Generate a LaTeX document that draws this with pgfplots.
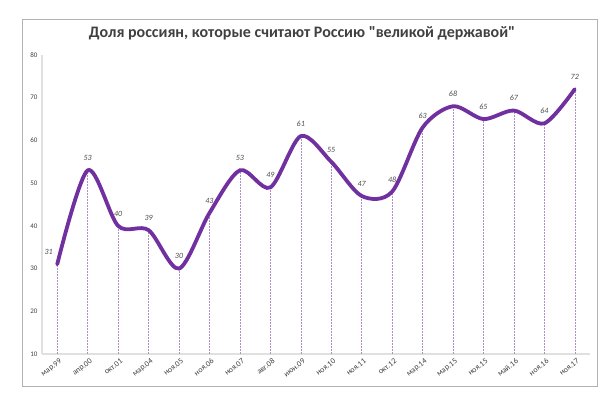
\documentclass[border=0pt]{standalone}
\usepackage{pgfplots}
\pgfplotsset{compat=1.18}
\usepackage{fontspec}
\setmainfont{Carlito}[Ligatures=TeXOff]
\definecolor{lineviolet}{HTML}{7030A0}
\pgfplotstableread{
x y
0 31
1 53
2 40
3 39
4 30
5 43
6 53
7 49
8 61
9 55
10 47
11 48
12 63
13 68
14 65
15 67
16 64
17 72
}\datatable
\pgfplotstableread{
x y
0 31
}\firstpoint
\begin{document}
\begin{tikzpicture}[x=1pt,y=1pt]
\path[use as bounding box] (0,0) rectangle (611,398);
\draw[black!30, line width=1pt] (22,11) rectangle (597,378);
\node[font=\bfseries\fontsize{16}{18}\selectfont, text=black!75] at (302,365) {Доля россиян, которые считают Россию "великой державой"};
\begin{axis}[
  at={(42pt,44pt)}, anchor=south west,
  scale only axis, width=548pt, height=299pt,
  xmin=-0.5, xmax=17.5, ymin=10, ymax=80,
  ytick={10,20,...,80},
  xtick={0,...,17},
  xticklabels={мар.99,апр.00,окт.01,мар.04,ноя.05,ноя.06,ноя.07,авг.08,июн.09,ноя.10,ноя.11,окт.12,мар.14,мар.15,ноя.15,май.16,ноя.16,ноя.17},
  axis x line*=bottom, axis y line*=left,
  axis line style={black!12, line width=1.5pt, -},
  major tick length=0pt,
  tick label style={font=\fontsize{7}{8}\selectfont, text=black!75},
  x tick label style={font=\fontsize{8}{9}\selectfont, rotate=38, anchor=north east, inner sep=1pt, yshift=-3pt},
  y tick label style={xshift=-1pt},
  /pgf/number format/assume math mode=true,
  clip=false,
]
\addplot[ycomb, draw=lineviolet!55, densely dotted, line width=0.5pt] table {\datatable};
\addplot[smooth, tension=0.5, draw=lineviolet, line width=3.8pt, line cap=round] table {\datatable};
\addplot[draw=none, forget plot,
  nodes near coords, point meta=explicit symbolic,
  every node near coord/.style={font=\itshape\fontsize{8}{9}\selectfont, text=black!70, anchor=south, yshift=6pt}] table[meta=y, skip coords between index={0}{1}] {\datatable};
\addplot[draw=none, forget plot,
  nodes near coords, point meta=explicit symbolic,
  every node near coord/.style={font=\itshape\fontsize{8}{9}\selectfont, text=black!70, anchor=south east, xshift=-1pt, yshift=6pt}] table[meta=y] {\firstpoint};
\end{axis}
\end{tikzpicture}
\end{document}
